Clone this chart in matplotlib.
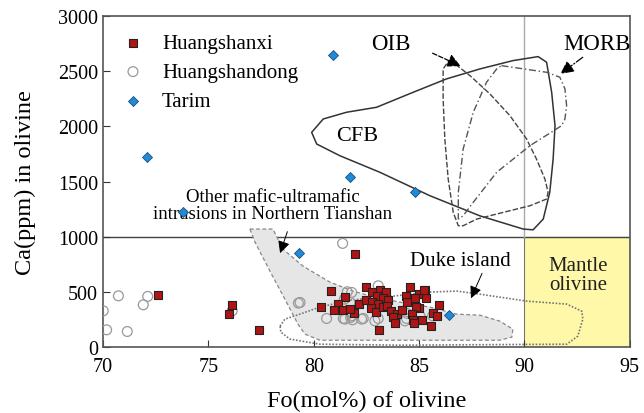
import matplotlib.pyplot as plt
from matplotlib.patches import Polygon, Rectangle

plt.rcParams['font.family'] = ['Liberation Serif', 'DejaVu Serif']

# --- sample data (Fo mol%, Ca ppm) ---
hsx_fo = [72.6, 76.1, 76.0, 77.4, 81.95, 80.8, 81.5, 82.46, 82.75, 83.14, 83.43, 82.98,
          83.3, 83.53, 81.13, 80.34, 80.97, 81.37, 82.16, 82.46, 82.75, 83.06, 81.91,
          81.72, 82.7, 82.95, 83.3, 83.49, 83.65, 83.97, 84.17, 83.74, 83.85, 83.11,
          84.56, 84.99, 85.28, 84.37, 84.8, 85.32, 84.44, 84.99, 84.85, 85.95, 85.67,
          85.83, 84.64, 84.72, 85.16, 84.75, 85.56, 85.24]
hsx_ca = [470, 380, 305, 160, 840, 510, 450, 541, 502, 517, 496, 465,
          444, 426, 390, 366, 335, 335, 390, 426, 411, 390, 314,
          344, 353, 323, 360, 369, 329, 305, 335, 269, 215, 157,
          541, 480, 519, 465, 441, 441, 405, 351, 360, 384, 314,
          284, 299, 248, 248, 215, 188, 519]

hsd_fo = [70.73, 72.12, 71.91, 70.01, 70.17, 71.15, 76.13, 81.37, 79.27, 80.61, 81.4,
          81.8, 82.35, 83.06, 81.8, 81.45, 83.06, 84.4, 85.04, 79.35, 81.59, 81.48,
          81.75, 81.84, 82.27, 82.9, 84.33, 84.44, 85.64, 81.72]
hsd_ca = [465, 460, 384, 329, 157, 142, 329, 940, 399, 260, 260,
          284, 260, 556, 496, 435, 260, 260, 284, 405, 502, 254,
          269, 248, 254, 238, 238, 305, 284, 405]

tarim_fo = [80.9, 72.1, 73.8, 81.7, 84.8, 79.3, 86.4]
tarim_ca = [2650, 1720, 1220, 1540, 1410, 850, 290]

# --- field outlines ---
cfb_fo = [79.9, 80.45, 81.56, 82.98, 84.72, 86.3, 87.88, 89.46, 90.65, 91.05, 91.29,
          91.45, 91.36, 91.2, 90.89, 90.41, 89.94, 87.88, 85.51, 83.14, 81.24, 80.14]
cfb_ca = [1946, 2067, 2128, 2173, 2309, 2430, 2520, 2596, 2632, 2581, 2309,
          2006, 1704, 1402, 1160, 1063, 1070, 1190, 1372, 1584, 1734, 1840]

oib_fo = [86.38, 86.7, 87.41, 88.36, 89.31, 90.1, 90.57, 90.97, 91.12, 91.05, 90.26,
          88.99, 87.73, 87.09, 86.86, 86.62, 86.38, 86.22, 86.14, 86.14]
oib_ca = [2587, 2566, 2460, 2294, 2097, 1886, 1704, 1523, 1402, 1342, 1281,
          1221, 1160, 1100, 1100, 1221, 1523, 1886, 2248, 2520]

morb_fo = [88.91, 91.05, 91.68, 91.92, 92.0, 91.92, 91.76, 90.26, 88.68, 87.57, 87.09,
           86.86, 86.86, 87.09, 87.57, 88.2, 88.68]
morb_ca = [2550, 2490, 2445, 2339, 2188, 2067, 2006, 1825, 1584, 1312, 1190,
           1160, 1402, 1795, 2128, 2400, 2520]

other_fo = [76.97, 78.06, 78.54, 79.49, 80.77, 81.86, 82.9, 84.09, 85.51, 86.79, 87.88,
            88.83, 89.45, 89.4, 88.83, 80.29, 79.58, 79.25, 78.63, 77.92, 77.21]
other_ca = [1070, 1070, 888, 734, 589, 508, 453, 408, 363, 299, 290,
            236, 163, 91, 63, 63, 118, 209, 435, 689, 952]

duke_fo = [78.4, 78.63, 79.2, 80.29, 81.72, 83.76, 85.51, 86.79, 87.88, 90.11, 92.01,
           92.72, 92.77, 92.53, 92.01, 84.09, 80.29, 78.87, 78.44]
duke_ca = [190, 254, 290, 363, 426, 462, 499, 508, 480, 417, 390,
           326, 254, 100, 27, 18, 27, 73, 136]

fig, ax = plt.subplots(figsize=(6.44, 4.14), dpi=100)
fig.subplots_adjust(left=0.16, right=0.978, bottom=0.159, top=0.959)

# mantle olivine box
ax.add_patch(Rectangle((90, 0), 5, 1000, facecolor="#fff8a8", edgecolor="#777777",
                       linewidth=0.8, zorder=0))
ax.axhline(1000, color="#444444", linewidth=1.0, zorder=1)
ax.plot([90, 90], [1000, 3000], color="#aaaaaa", linewidth=1.0, zorder=1)

# fields
ax.add_patch(Polygon(list(zip(other_fo, other_ca)), closed=True, facecolor="#e6e6e6",
                     edgecolor="#888888", linestyle=(0, (3, 2)), linewidth=0.9, zorder=1))
ax.add_patch(Polygon(list(zip(duke_fo, duke_ca)), closed=True, fill=False,
                     edgecolor="#777777", linestyle=(0, (1, 1)), linewidth=1.2, zorder=2))
ax.add_patch(Polygon(list(zip(cfb_fo, cfb_ca)), closed=True, fill=False,
                     edgecolor="#333333", linewidth=1.1, joinstyle="round", zorder=2))
ax.add_patch(Polygon(list(zip(oib_fo, oib_ca)), closed=True, fill=False,
                     edgecolor="#444444", linestyle=(0, (4, 1.5)), linewidth=1.0, zorder=2))
ax.add_patch(Polygon(list(zip(morb_fo, morb_ca)), closed=True, fill=False,
                     edgecolor="#555555", linestyle=(0, (5, 2, 1, 2)), linewidth=1.0, zorder=2))

# samples
ax.scatter(hsd_fo, hsd_ca, marker="o", s=50, facecolors="none", edgecolors="#999999",
           linewidths=0.9, zorder=3, label="Huangshandong")
ax.scatter(hsx_fo, hsx_ca, marker="s", s=32, color="#b01515", edgecolors="#222222",
           linewidths=0.8, zorder=4, label="Huangshanxi")
ax.scatter(tarim_fo, tarim_ca, marker="D", s=26, color="#1f8ad6", edgecolors="#1a4f80",
           linewidths=0.6, zorder=5, label="Tarim")

# annotations
ax.text(83.65, 2747, "OIB", fontsize=16.5, ha="center", va="center")
ax.annotate("", xy=(87.09, 2536), xytext=(85.52, 2673),
            arrowprops=dict(arrowstyle="-|>", color="black", linestyle="--", lw=0.9,
                            mutation_scale=20))
ax.text(93.45, 2747, "MORB", fontsize=16.5, ha="center", va="center")
ax.annotate("", xy=(91.6, 2460), xytext=(92.87, 2641),
            arrowprops=dict(arrowstyle="-|>", color="black", linestyle="-.", lw=0.9,
                            mutation_scale=20))
ax.text(82.05, 1913, "CFB", fontsize=16, ha="center", va="center")
ax.text(78.05, 1287, "Other mafic-ultramafic\nintrusions in Northern Tianshan",
        fontsize=13.5, ha="center", va="center", linespacing=0.95)
ax.annotate("", xy=(78.36, 828), xytext=(78.79, 1070),
            arrowprops=dict(arrowstyle="-|>", color="black", lw=0.7, mutation_scale=18))
ax.text(86.95, 789, "Duke island", fontsize=15, ha="center", va="center")
ax.annotate("", xy=(87.41, 420), xytext=(88.04, 692),
            arrowprops=dict(arrowstyle="-|>", color="black", lw=0.7, mutation_scale=18))
ax.text(92.55, 653, "Mantle\nolivine", fontsize=15, ha="center", va="center",
        color="#222222", linespacing=1.0)

ax.set_xlim(70, 95)
ax.set_ylim(0, 3000)
ax.set_xticks([70, 75, 80, 85, 90, 95])
ax.set_yticks([0, 500, 1000, 1500, 2000, 2500, 3000])
ax.tick_params(direction="in", length=5, labelsize=14.5, color="#333333")
ax.tick_params(axis="x", pad=7)
ax.set_xlabel("Fo(mol%) of olivine", fontsize=17.5, labelpad=10)
ax.set_ylabel("Ca(ppm) in olivine", fontsize=17.5, labelpad=16)
for sp in ax.spines.values():
    sp.set_color("#555555")
    sp.set_linewidth(1.2)

handles, labels = ax.get_legend_handles_labels()
order = [1, 0, 2]
ax.legend([handles[i] for i in order], [labels[i] for i in order], loc="upper left",
          frameon=False, fontsize=15, handlelength=1.0, handletextpad=0.9,
          labelspacing=0.45, borderpad=0, borderaxespad=0,
          bbox_to_anchor=(0.037, 0.947))

plt.savefig("out.png", dpi=100)
